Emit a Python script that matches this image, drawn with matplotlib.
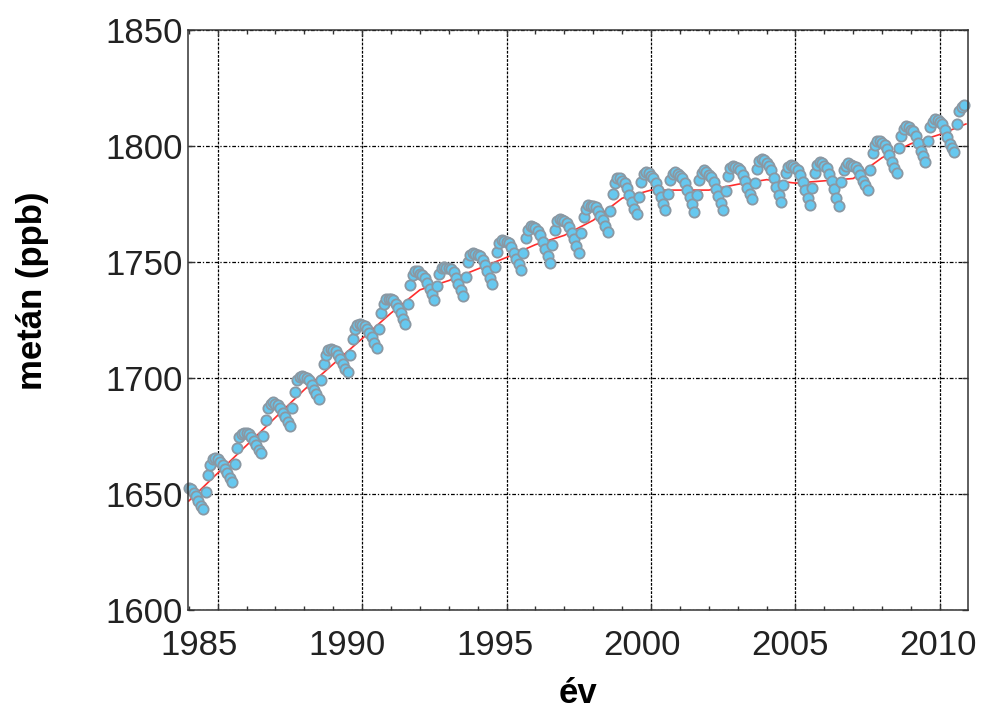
import numpy as np
import matplotlib
matplotlib.use("Agg")
import matplotlib.pyplot as plt
from matplotlib.transforms import ScaledTranslation

plt.rcParams['font.family'] = ['Liberation Sans', 'DejaVu Sans']

# Monthly methane values (ppb), Jan..Dec
ch4_1984 = [1652.5, 1652, 1650.5, 1649, 1647, 1645, 1643.5, 1651, 1658, 1662.5, 1665, 1665.5]
ch4_1985 = [1665, 1664, 1662.5, 1661, 1659, 1657, 1655, 1663, 1670, 1674.5, 1676, 1676.5]
ch4_1986 = [1676.5, 1676, 1674.5, 1673, 1671, 1669, 1667.5, 1675, 1682, 1687, 1689, 1689.5]
ch4_1987 = [1689, 1688.5, 1687, 1685, 1683, 1681, 1679.5, 1687, 1694, 1699, 1700.5, 1701]
ch4_1988 = [1700.5, 1700, 1699, 1697, 1695, 1693, 1691, 1699, 1706, 1710, 1712, 1712.5]
ch4_1989 = [1712, 1711.5, 1710, 1708, 1706, 1704, 1702.5, 1710, 1717, 1721, 1723, 1723.5]
ch4_1990 = [1723, 1722.5, 1721, 1719.5, 1717.5, 1715, 1713, 1721, 1728, 1732, 1734, 1734]
ch4_1991 = [1734, 1733.5, 1732, 1730, 1728, 1725.5, 1723.5, 1732, 1740, 1744.5, 1746, 1746]
ch4_1992 = [1745, 1744.5, 1743, 1741, 1738.5, 1736, 1733.5, 1739.5, 1745, 1747.5, 1748, 1747.5]
ch4_1993 = [1747.5, 1747, 1745.5, 1743, 1740.5, 1738, 1735.5, 1743.5, 1750, 1753, 1754, 1753.5]
ch4_1994 = [1753, 1752.5, 1751, 1748.5, 1746, 1743, 1740.5, 1748, 1754.5, 1758, 1759.5, 1759]
ch4_1995 = [1758.5, 1758, 1756.5, 1754, 1751.5, 1749, 1746.5, 1754, 1760.5, 1764, 1765.5, 1765]
ch4_1996 = [1764.5, 1763.5, 1761.5, 1758.5, 1755.5, 1752.5, 1749.5, 1757.5, 1764, 1767.5, 1768.5, 1768]
ch4_1997 = [1767.5, 1767, 1765, 1762.5, 1760, 1757, 1754, 1762.5, 1769.5, 1773, 1774.5, 1774]
ch4_1998 = [1774, 1773.5, 1772, 1770, 1768, 1765.5, 1763, 1772, 1779.5, 1784, 1786, 1786]
ch4_1999 = [1785, 1784, 1782, 1779, 1776, 1773, 1770.5, 1778, 1784.5, 1788, 1789, 1788.5]
ch4_2000 = [1787, 1786, 1784, 1781, 1778, 1775, 1772.5, 1779.5, 1785.5, 1788, 1789, 1788]
ch4_2001 = [1787, 1786, 1784, 1781, 1778, 1775, 1771.5, 1779, 1785.5, 1788.5, 1789.5, 1789]
ch4_2002 = [1787.5, 1786.5, 1784.5, 1781.5, 1778.5, 1775.5, 1772.5, 1780.5, 1787, 1790.5, 1791.5, 1791]
ch4_2003 = [1790.5, 1789.5, 1787.5, 1785, 1782, 1779.5, 1777, 1784, 1790, 1793.5, 1794.5, 1794]
ch4_2004 = [1792.5, 1791.5, 1789.5, 1786, 1782.5, 1779, 1776, 1783, 1788.5, 1791, 1792, 1791.5]
ch4_2005 = [1790.5, 1789.5, 1787.5, 1784.5, 1781, 1777.5, 1774.5, 1782, 1788.5, 1792, 1793, 1792.5]
ch4_2006 = [1791.5, 1790.5, 1788, 1785, 1781.5, 1777.5, 1774, 1784.5, 1789.5, 1791.5, 1792.5, 1792]
ch4_2007 = [1791.5, 1791, 1789.5, 1787.5, 1785, 1783, 1781, 1789.5, 1797, 1800.5, 1802, 1802]
ch4_2008 = [1801.5, 1800.5, 1798.5, 1796, 1793, 1790.5, 1788.5, 1799, 1804.5, 1807.5, 1808.5, 1808]
ch4_2009 = [1807, 1806.5, 1804.5, 1801.5, 1798, 1795.5, 1793, 1802, 1808, 1810.5, 1811.5, 1811]
ch4_2010 = [1810.5, 1809.5, 1807, 1804, 1801, 1799, 1797.5, 1809.5, 1815, 1817, 1817.5]

data_years = list(range(1984, 2011))
monthly = [ch4_1984, ch4_1985, ch4_1986, ch4_1987, ch4_1988, ch4_1989, ch4_1990,
           ch4_1991, ch4_1992, ch4_1993, ch4_1994, ch4_1995, ch4_1996, ch4_1997,
           ch4_1998, ch4_1999, ch4_2000, ch4_2001, ch4_2002, ch4_2003, ch4_2004,
           ch4_2005, ch4_2006, ch4_2007, ch4_2008, ch4_2009, ch4_2010]

# Deseasonalised trend (red line)
trend_year = [1984, 1985, 1986, 1987, 1988, 1989, 1990, 1991, 1992, 1993, 1994,
              1995, 1996, 1997, 1998, 1999, 2000, 2001, 2002, 2003, 2004, 2005,
              2006, 2007, 2008, 2009, 2010, 2010.9]
trend_ch4 = [1647, 1659, 1671, 1683, 1695, 1706, 1717, 1728, 1738, 1742, 1747,
             1752, 1757.5, 1761.5, 1768, 1777.5, 1781, 1781, 1781, 1783.5, 1785.5, 1784,
             1785, 1786, 1795, 1801, 1805, 1809.5]

x_ticks = [1985, 1990, 1995, 2000, 2005, 2010]
y_ticks = [1600, 1650, 1700, 1750, 1800, 1850]

xs, ys = [], []
for yr, vals in zip(data_years, monthly):
    for i, v in enumerate(vals):
        xs.append(yr + i / 12.0)
        ys.append(v)

fig = plt.figure(figsize=(9.83, 7.11), dpi=100)
ax = fig.add_axes([0.1909, 0.1420, 0.7935, 0.8158])

ax.plot(trend_year, trend_ch4, color='#ff2d2d', lw=1.2, zorder=2)
ax.plot(xs, ys, ls='none', marker='o', ms=7.4, mfc='#66c8ef', mec='#8a98a3',
        mew=1.3, zorder=3, clip_on=False)

ax.set_xlim(1983.96, 2010.96)
ax.set_ylim(1600, 1850)
ax.set_xticks(x_ticks)
ax.set_xticks(list(range(1984, 2011)), minor=True)
ax.set_yticks(y_ticks)
ax.set_xticklabels([str(t) for t in x_ticks])
ax.set_yticklabels([str(t) for t in y_ticks])

ax.xaxis.grid(True, which='major', color='black', lw=0.9, ls=(0, (2.2, 1.1)))
ax.yaxis.grid(True, which='major', color='black', lw=0.9, ls=(0, (3, 1.5, 1, 1.5)))
ax.set_axisbelow(True)

for s in ax.spines.values():
    s.set_linewidth(1.1)
    s.set_color('#333333')
    s.set_zorder(4)

ax.tick_params(which='both', direction='in', top=True, right=True, color='#333333')
ax.tick_params(which='major', length=4.5, width=1.0, labelsize=25, labelcolor='#222222')
ax.tick_params(which='minor', length=3, width=1.0)
ax.tick_params(axis='x', which='major', pad=13.5)
ax.tick_params(axis='y', which='major', pad=3.6)

# small horizontal shifts of the x tick labels as in the reference
for t, lab in zip(x_ticks, ax.get_xticklabels()):
    dx = (-18.2 + (t - 1985) * 0.64) / 100.0
    lab.set_transform(lab.get_transform() + ScaledTranslation(dx, 0, fig.dpi_scale_trans))

ax.set_xlabel('év', fontsize=25, fontweight='bold')
ax.set_ylabel('metán (ppb)', fontsize=25, fontweight='bold')
ax.xaxis.set_label_coords(0.5, -0.116)
ax.yaxis.set_label_coords(-0.178, 0.55)

fig.savefig('out.png', dpi=100)
